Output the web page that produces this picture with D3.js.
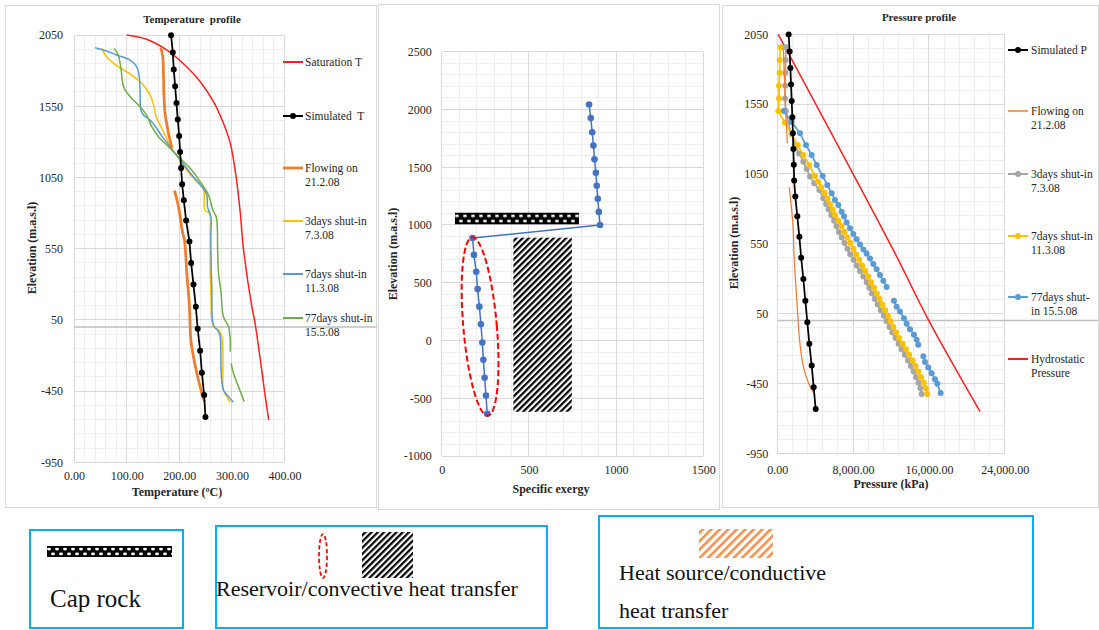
<!DOCTYPE html>
<html><head><meta charset="utf-8">
<script src="https://cdn.jsdelivr.net/npm/d3@7"></script>
<style>
body{margin:0;background:#fff;}
svg{display:block;font-family:"Liberation Serif","Times New Roman",serif;}
</style></head><body>
<svg id="fig" width="1099" height="630"></svg>
<script>
// ---------- Temperature profile (T in °C, elevation in m.a.s.l) ----------
const elevSim = [2048, 1927, 1808, 1690, 1572, 1456, 1341, 1228, 1116, 1003, 889, 747, 600, 450, 298, 142, -12, -166, -321, -477, -632];
const simT = [184.5, 187.7, 189.6, 192.2, 194.7, 197.2, 199.8, 201.7, 203.6, 205.5, 208.7, 213.1, 219.4, 222.6, 227, 231.5, 235, 239.7, 243, 247.3, 249.8];
const satT = [[100,2050],[138,2020],[176,1945],[214,1827],[240,1722],[265,1582],[284,1430],[297,1289],[308,1056],[316,800],[322,550],[338,142],[343,50],[353,-200],[362,-450],[370,-653]];
const flowT = [[165,1961],[168.7,1898],[170,1781],[171,1617],[173,1500],[176,1430],[179.5,1360],[184,1289],[186,1254], null,
  [191,957],[198.5,845],[206.7,657],[209.9,611],[214.4,377],[219.4,142],[222,-91],[227,-209],[233.4,-325],[239.7,-419],[244.8,-489],[248,-524]];
const shut3T = [[52.6,1956],[62,1898],[84,1828],[110,1769],[128.7,1711],[144.6,1629],[152,1547],[156,1477],[163.6,1418],[170,1371],[176,1324],[182.6,1266],[201.7,1172],[214,1102],[233,1020],[246,973],[247.4,915],[249,821],[257.5,798],[258.8,657],[258.8,377],[260,259],[265,2],[274.6,-21],[281,-68],[283,-209],[284,-443],[290.5,-489],[296.8,-529]];
const shut7T = [[40,1961],[55.8,1945],[81,1910],[106.5,1874],[119,1828],[124,1757],[125.6,1640],[127,1523],[132,1488],[144.6,1453],[157,1395],[170,1324],[182.6,1266],[201.7,1172],[224,1067],[243,985],[252.4,927],[253.7,845],[260,774],[260,611],[262,259],[265,14],[274.6,-33],[277.8,-68],[279.7,-325],[284,-443],[293.6,-489],[303,-529]];
const shut77T = [[76,1956],[84,1910],[88.8,1828],[92.6,1711],[97,1664],[109.7,1605],[125.6,1547],[138,1488],[147.8,1406],[160.4,1336],[179.5,1266],[201.7,1184],[220.7,1114],[239.7,1020],[255.6,927],[263.8,821],[270.2,774],[272.7,657],[272.7,611],[274.6,377],[279,259],[284,72],[293.6,2],[296.8,-91],[296.8,-173], null,
  [298.7,-255],[303,-325],[312.6,-419],[323.4,-524]];
const tempTicks = [0, 100, 200, 300, 400];
const elevTicks = [2050, 1550, 1050, 550, 50, -450, -950];

// ---------- Specific exergy ----------
const elevExergy = [2043, 1925, 1803, 1687, 1568, 1452, 1339, 1226, 1113, 1000, 887, 741, 595, 445, 293, 141, -17, -167, -322, -477, -635];
const exergy = [845, 855, 863, 870, 876, 884, 889, 895, 901, 908, 177, 185, 198, 206, 216, 225, 233, 239, 246, 254, 261];
const exergyTicks = [0, 500, 1000, 1500];
const exElevTicks = [2500, 2000, 1500, 1000, 500, 0, -500, -1000];
const capRockZone = {ex: [76, 787], elev: [1006, 1106]};
const reservoirZone = {ex: [411, 746], elev: [-617, 890]};
const convectiveZone = {ex: 220, elev: 121, halfEx: 96, halfElev: 775, tilt: -5};

// ---------- Pressure profile (kPa) ----------
const simP = [1200, 1300, 1380, 1450, 1520, 1590, 1650, 1700, 1740, 1780, 1900, 2110, 2330, 2520, 2750, 2960, 3170, 3380, 3630, 3840, 4050];
const flowP = [[640,1950],[720,1800],[800,1650],[880,1500],[980,1380],[1060,1270], null,
  [1270,954],[1500,800],[1690,649],[1760,482],[2100,100],[2350,-139],[2750,-330],[3250,-440],[3800,-515]];
const shut3P = [[900,1957],[880,1866],[850,1775],[830,1682],[810,1591],[900,1501],[1150,1417],[1500,1336],[1850,1257],[2300,1197],[2750,1138],[3100,1085],[3450,1031],[3900,983],[4436,935],[4855,876],
  [5150,835],[5420,795],[5700,755],[6000,715],[6250,675],[6500,635],[6800,595],[7100,555],[7400,515],[7700,475],[8050,435],[8400,395],[8720,355],[9080,315],[9430,275],[9720,235],[10000,195],[10300,155],[10600,115],[10920,75],[11250,35],[11550,-5],[11850,-45],[12150,-85],[12480,-125],[12800,-165],[13120,-205],[13460,-245],[13800,-285],[14100,-325],[14380,-365],[14650,-405],[14900,-445],[15100,-485],[15240,-525]];
const shut7P = [[355,1957],[250,1866],[250,1775],[180,1682],[180,1591],[110,1501],[813,1417],[1516,1336],[2150,1257],[2748,1185],[3381,1114],[3979,1035],
  [4310,995],[4640,955],[4990,915],[5300,875],[5560,835],[5840,795],[6100,755],[6450,715],[6800,675],[7100,635],[7400,595],[7700,555],[8030,515],[8320,475],[8640,435],[8950,395],[9280,355],[9600,315],[9900,275],[10200,235],[10500,195],[10790,155],[11080,115],[11380,75],[11680,35],[11960,-5],[12250,-45],[12540,-85],[12860,-125],[13230,-165],[13570,-205],[13920,-245],[14280,-285],[14600,-325],[14880,-365],[15170,-405],[15450,-445],[15690,-485],[15830,-525]];
const shut77P = [[700,1500],[1516,1424],[2395,1341],[3029,1257],[3627,1186],[4155,1114],[4788,1035],[5280,971],[5738,912],[6090,864],[6440,828],[6790,780],[7040,746],[7320,702],[7673,661],[8025,621],[8377,583],[8730,545],[9080,510],[9430,480],[9782,445],[10133,405],[10485,367],[10837,327],[11189,285],[11540,240], null,
  [12314,143],[12596,100],[12948,65],[13370,17],[13651,-23],[14003,-61],[14425,-102],[14706,-137],[14882,-173], null,
  [15410,-256],[15586,-297],[15938,-335],[16290,-376],[16642,-419],[16888,-452],[17240,-519]];
const hydroP = [[100,2050],[12240,506],[15950,5],[21400,-652]];
const pressTicks = [0, 8000, 16000, 24000];

const C = {red:"#ff1f1f", black:"#000", orange:"#ed7d31", yellow:"#ffc000", blue:"#5b9bd5", green:"#70ad47", gray:"#a5a5a5", deep:"#4472c4"};
const FONT = '"Liberation Serif","Times New Roman",serif';

const fig = d3.select("#fig");
const defs = fig.append("defs");

// diagonal stripe fills
function hatch(id, color, period, stripe) {
  const p = defs.append("pattern").attr("id", id).attr("patternUnits", "userSpaceOnUse")
    .attr("width", period).attr("height", period).attr("patternTransform", "rotate(45)");
  p.append("rect").attr("width", period).attr("height", period).attr("fill", "#fff");
  p.append("rect").attr("width", stripe).attr("height", period).attr("fill", color);
}
hatch("hatchBW", "#000", 4.4, 2.2);
hatch("hatchOr", "#f0904f", 6, 2.6);

// black band with staggered white dashes (cap rock)
function capPattern(id, x, y, h) {
  const p = defs.append("pattern").attr("id", id).attr("patternUnits", "userSpaceOnUse")
    .attr("x", x).attr("y", y).attr("width", 8).attr("height", h);
  p.append("rect").attr("width", 8).attr("height", h).attr("fill", "#000");
  p.append("ellipse").attr("cx", 2).attr("cy", h * 0.28).attr("rx", 2).attr("ry", h * 0.12).attr("fill", "#fff");
  p.append("ellipse").attr("cx", 6).attr("cy", h * 0.72).attr("rx", 2).attr("ry", h * 0.12).attr("fill", "#fff");
}

// panel frames
[[5.5, 5.5, 371, 502], [378.5, 4.5, 341, 505], [722.5, 5.5, 376, 502]].forEach(f =>
  fig.append("rect").attr("x", f[0]).attr("y", f[1]).attr("width", f[2]).attr("height", f[3])
    .attr("fill", "#fff").attr("stroke", "#d9d9d9").attr("stroke-width", 1));

function buildPanel(o) {
  const g = fig.append("g");
  const x = d3.scaleLinear().domain(o.xDom).range([o.left, o.right]);
  const y = d3.scaleLinear().domain(o.yDom).range([o.bottom, o.top]);
  const grid = g.append("g").attr("shape-rendering", "crispEdges");
  const mx = d3.range(o.xDom[0], o.xDom[1] + 1e-6, o.xMinor);
  const my = d3.range(o.yDom[0], o.yDom[1] + 1e-6, o.yMinor);
  grid.selectAll(".mx").data(mx).join("line").attr("x1", d => x(d)).attr("x2", d => x(d))
    .attr("y1", o.top).attr("y2", o.bottom).attr("stroke", "#eeeeee");
  grid.selectAll(".my").data(my).join("line").attr("y1", d => y(d)).attr("y2", d => y(d))
    .attr("x1", o.left).attr("x2", o.right).attr("stroke", "#eeeeee");
  grid.selectAll(".Mx").data(o.xTicks).join("line").attr("x1", d => x(d)).attr("x2", d => x(d))
    .attr("y1", o.top).attr("y2", o.bottom).attr("stroke", "#d9d9d9");
  grid.selectAll(".My").data(o.yTicks).join("line").attr("y1", d => y(d)).attr("y2", d => y(d))
    .attr("x1", o.left).attr("x2", o.right).attr("stroke", "#d9d9d9");

  const ax = g.append("g").attr("transform", `translate(0,${o.bottom})`)
    .call(d3.axisBottom(x).tickValues(o.xTicks).tickSize(0).tickPadding(o.xPad).tickFormat(o.xFmt));
  const ay = g.append("g").attr("transform", `translate(${o.left},0)`)
    .call(d3.axisLeft(y).tickValues(o.yTicks).tickSize(0).tickPadding(o.yPad).tickFormat(d => String(d)));
  [ax, ay].forEach(a => {
    a.select(".domain").remove();
    a.attr("font-family", FONT).attr("font-size", 12);
    a.selectAll("text").attr("fill", "#262626");
  });
  return {g, x, y};
}

function drawSeries(p, data, color, width, curve, r) {
  const line = d3.line().defined(d => d).x(d => p.x(d[0])).y(d => p.y(d[1])).curve(curve);
  p.g.append("path").datum(data).attr("d", line).attr("fill", "none")
    .attr("stroke", color).attr("stroke-width", width).attr("stroke-linejoin", "round");
  if (r) {
    p.g.append("g").selectAll("circle").data(data.filter(Boolean)).join("circle")
      .attr("cx", d => p.x(d[0])).attr("cy", d => p.y(d[1])).attr("r", r).attr("fill", color);
  }
}

function text(x, y, s, opts = {}) {
  const t = fig.append("text").attr("x", x).attr("y", y).text(s)
    .attr("font-family", FONT).attr("font-size", opts.size || 11.5)
    .attr("fill", opts.fill || "#262626").attr("text-anchor", opts.anchor || "start")
    .style("white-space", "pre");
  if (opts.bold) t.attr("font-weight", "bold");
  if (opts.rotate) t.attr("transform", `rotate(-90,${x},${y})`);
  return t;
}

function legend(items, x0, x1, tx) {
  items.forEach(it => {
    fig.append("line").attr("x1", x0).attr("x2", x1).attr("y1", it.y).attr("y2", it.y)
      .attr("stroke", it.color).attr("stroke-width", it.w || 2);
    if (it.marker) fig.append("circle").attr("cx", (x0 + x1) / 2).attr("cy", it.y).attr("r", 3).attr("fill", it.color);
    it.lines.forEach((s, i) => text(tx, it.y + 4 + i * 14, s));
  });
}

// ===== Temperature panel =====
const pT = buildPanel({left: 74, right: 284.5, top: 35, bottom: 462.3, xDom: [0, 400], yDom: [-950, 2050],
  xTicks: tempTicks, yTicks: elevTicks, xMinor: 20, yMinor: 100, xPad: 9, yPad: 11, xFmt: d3.format(".2f")});
pT.g.append("line").attr("x1", 74).attr("x2", 377).attr("y1", pT.y(0)).attr("y2", pT.y(0))
  .attr("stroke", "#bfbfbf").attr("stroke-width", 1.5);
drawSeries(pT, satT, C.red, 1.5, d3.curveCatmullRom.alpha(0.5));
drawSeries(pT, shut3T, C.yellow, 1.5, d3.curveCatmullRom.alpha(0.5));
drawSeries(pT, shut7T, C.blue, 1.5, d3.curveCatmullRom.alpha(0.5));
drawSeries(pT, shut77T, C.green, 1.5, d3.curveCatmullRom.alpha(0.5));
drawSeries(pT, flowT, C.orange, 2.75, d3.curveCatmullRom.alpha(0.5));
drawSeries(pT, simT.map((t, i) => [t, elevSim[i]]), C.black, 1.75, d3.curveLinear, 3);
text(192, 23, "Temperature  profile", {bold: true, anchor: "middle", size: 11});
text(177, 496, "Temperature (ºC)", {bold: true, anchor: "middle", size: 12});
text(36, 248, "Elevation (m.a.s.l)", {bold: true, anchor: "middle", rotate: true, size: 12});
legend([
  {y: 62, color: C.red, lines: ["Saturation T"]},
  {y: 116, color: C.black, marker: true, lines: ["Simulated  T"]},
  {y: 168, color: C.orange, w: 2.75, lines: ["Flowing on", "21.2.08"]},
  {y: 221, color: C.yellow, lines: ["3days shut-in", "7.3.08"]},
  {y: 274, color: C.blue, lines: ["7days shut-in", "11.3.08"]},
  {y: 318, color: C.green, lines: ["77days shut-in", "15.5.08"]}
], 283, 303, 305);

// ===== Specific exergy panel =====
const pE = buildPanel({left: 441.7, right: 703.3, top: 51.7, bottom: 456, xDom: [0, 1500], yDom: [-1000, 2500],
  xTicks: exergyTicks, yTicks: exElevTicks, xMinor: 100, yMinor: 100, xPad: 9.5, yPad: 10, xFmt: d3.format("d")});
capPattern("capMain", pE.x(capRockZone.ex[0]), pE.y(capRockZone.elev[1]), pE.y(capRockZone.elev[0]) - pE.y(capRockZone.elev[1]));
pE.g.append("rect").attr("x", pE.x(capRockZone.ex[0])).attr("y", pE.y(capRockZone.elev[1]))
  .attr("width", pE.x(capRockZone.ex[1]) - pE.x(capRockZone.ex[0]))
  .attr("height", pE.y(capRockZone.elev[0]) - pE.y(capRockZone.elev[1])).attr("fill", "url(#capMain)");
pE.g.append("rect").attr("x", pE.x(reservoirZone.ex[0])).attr("y", pE.y(reservoirZone.elev[1]))
  .attr("width", pE.x(reservoirZone.ex[1]) - pE.x(reservoirZone.ex[0]))
  .attr("height", pE.y(reservoirZone.elev[0]) - pE.y(reservoirZone.elev[1])).attr("fill", "url(#hatchBW)");
drawSeries(pE, exergy.map((v, i) => [v, elevExergy[i]]), C.deep, 1.5, d3.curveLinear, 3.3);
{
  const cx = pE.x(convectiveZone.ex), cy = pE.y(convectiveZone.elev);
  pE.g.append("ellipse").attr("cx", cx).attr("cy", cy)
    .attr("rx", pE.x(convectiveZone.halfEx) - pE.x(0))
    .attr("ry", pE.y(0) - pE.y(convectiveZone.halfElev))
    .attr("transform", `rotate(${convectiveZone.tilt},${cx},${cy})`)
    .attr("fill", "none").attr("stroke", "#ff0000").attr("stroke-width", 2).attr("stroke-dasharray", "6,3");
}
text(551, 493, "Specific exergy", {bold: true, anchor: "middle", size: 12});
text(397, 254, "Elevation (m.a.s.l)", {bold: true, anchor: "middle", rotate: true, size: 12});

// ===== Pressure panel =====
const pP = buildPanel({left: 777.3, right: 1004.7, top: 34.3, bottom: 453.3, xDom: [0, 24000], yDom: [-950, 2050],
  xTicks: pressTicks, yTicks: elevTicks, xMinor: 1600, yMinor: 100, xPad: 12, yPad: 9, xFmt: d3.format(",.2f")});
pP.g.append("line").attr("x1", 777.3).attr("x2", 1098).attr("y1", pP.y(0)).attr("y2", pP.y(0))
  .attr("stroke", "#bfbfbf").attr("stroke-width", 1.5);
drawSeries(pP, hydroP, C.red, 1.5, d3.curveCatmullRom.alpha(0.5));
drawSeries(pP, shut3P, C.gray, 1.75, d3.curveLinear, 3);
drawSeries(pP, shut7P, C.yellow, 1.75, d3.curveLinear, 3);
drawSeries(pP, shut77P, C.blue, 1.75, d3.curveLinear, 3);
drawSeries(pP, flowP, C.orange, 1.25, d3.curveCatmullRom.alpha(0.5));
drawSeries(pP, simP.map((v, i) => [v, elevSim[i]]), C.black, 1.75, d3.curveLinear, 3);
text(919, 21, "Pressure profile", {bold: true, anchor: "middle", size: 11});
text(891, 488, "Pressure (kPa)", {bold: true, anchor: "middle", size: 12});
text(738, 243, "Elevation (m.a.s.l)", {bold: true, anchor: "middle", rotate: true, size: 12});
legend([
  {y: 50, color: C.black, marker: true, lines: ["Simulated P"]},
  {y: 111, color: C.orange, w: 1.5, lines: ["Flowing on", "21.2.08"]},
  {y: 174, color: C.gray, marker: true, lines: ["3days shut-in", "7.3.08"]},
  {y: 236, color: C.yellow, marker: true, lines: ["7days shut-in", "11.3.08"]},
  {y: 297, color: C.blue, marker: true, lines: ["77days shut-", "in 15.5.08"]},
  {y: 359, color: C.red, lines: ["Hydrostatic", "Pressure"]}
], 1008, 1028, 1031);

// ===== Key boxes =====
const BOX = "#00b0f0";
[[30, 530, 153, 98], [216, 526, 331, 102], [599, 516, 434, 112]].forEach(b =>
  fig.append("rect").attr("x", b[0]).attr("y", b[1]).attr("width", b[2]).attr("height", b[3])
    .attr("fill", "none").attr("stroke", BOX).attr("stroke-width", 2));
capPattern("capKey", 47, 546, 11);
fig.append("rect").attr("x", 47).attr("y", 546).attr("width", 125).attr("height", 11).attr("fill", "url(#capKey)");
text(50, 607, "Cap rock", {size: 25, fill: "#111"});
fig.append("ellipse").attr("cx", 323).attr("cy", 556).attr("rx", 4).attr("ry", 22)
  .attr("fill", "none").attr("stroke", "#ff0000").attr("stroke-width", 1.75).attr("stroke-dasharray", "4,2.5");
fig.append("rect").attr("x", 362).attr("y", 532).attr("width", 51).attr("height", 46).attr("fill", "url(#hatchBW)");
text(216, 596, "Reservoir/convective heat transfer", {size: 22, fill: "#111"});
fig.append("rect").attr("x", 699).attr("y", 529).attr("width", 74).attr("height", 29).attr("fill", "url(#hatchOr)");
text(619, 580, "Heat source/conductive", {size: 22, fill: "#111"});
text(619, 618, "heat transfer", {size: 22, fill: "#111"});
</script>
</body></html>
